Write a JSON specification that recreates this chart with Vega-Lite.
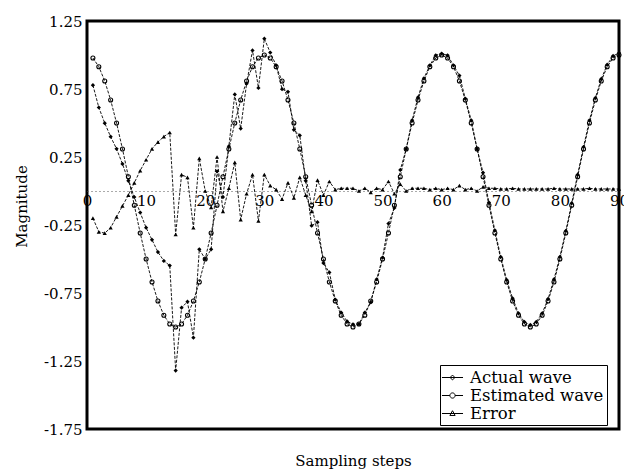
{
  "$schema": "https://vega.github.io/schema/vega-lite/v6.json",
  "autosize": {"type": "none"},
  "padding": {"left": 87, "top": 21, "right": 5, "bottom": 45},
  "width": 532,
  "height": 408,
  "background": "white",
  "config": {
    "font": "DejaVu Serif",
    "view": {"stroke": "black", "strokeWidth": 3},
    "axis": {"grid": false, "ticks": false, "labelColor": "black", "titleColor": "black", "titleFontWeight": "normal", "labelFontSize": 15, "titleFontSize": 15}
  },
  "data": {"values": [
    {"n":1,"Actual wave":0.778,"Estimated wave":0.978,"Error":-0.20},
    {"n":2,"Actual wave":0.614,"Estimated wave":0.914,"Error":-0.30},
    {"n":3,"Actual wave":0.499,"Estimated wave":0.809,"Error":-0.31},
    {"n":4,"Actual wave":0.399,"Estimated wave":0.669,"Error":-0.27},
    {"n":5,"Actual wave":0.31,"Estimated wave":0.5,"Error":-0.19},
    {"n":6,"Actual wave":0.199,"Estimated wave":0.309,"Error":-0.11},
    {"n":7,"Actual wave":0.075,"Estimated wave":0.105,"Error":-0.03},
    {"n":8,"Actual wave":-0.045,"Estimated wave":-0.105,"Error":0.06},
    {"n":9,"Actual wave":-0.159,"Estimated wave":-0.309,"Error":0.15},
    {"n":10,"Actual wave":-0.27,"Estimated wave":-0.5,"Error":0.23},
    {"n":11,"Actual wave":-0.359,"Estimated wave":-0.669,"Error":0.31},
    {"n":12,"Actual wave":-0.449,"Estimated wave":-0.809,"Error":0.36},
    {"n":13,"Actual wave":-0.514,"Estimated wave":-0.914,"Error":0.40},
    {"n":14,"Actual wave":-0.548,"Estimated wave":-0.978,"Error":0.43},
    {"n":15,"Actual wave":-1.32,"Estimated wave":-1.0,"Error":-0.32},
    {"n":16,"Actual wave":-0.858,"Estimated wave":-0.978,"Error":0.12},
    {"n":17,"Actual wave":-0.814,"Estimated wave":-0.914,"Error":0.10},
    {"n":18,"Actual wave":-1.079,"Estimated wave":-0.809,"Error":-0.27},
    {"n":19,"Actual wave":-0.429,"Estimated wave":-0.669,"Error":0.24},
    {"n":20,"Actual wave":-0.5,"Estimated wave":-0.5,"Error":0.0},
    {"n":21,"Actual wave":-0.429,"Estimated wave":-0.309,"Error":-0.12},
    {"n":22,"Actual wave":0.145,"Estimated wave":-0.105,"Error":0.25},
    {"n":23,"Actual wave":-0.045,"Estimated wave":0.105,"Error":-0.15},
    {"n":24,"Actual wave":0.329,"Estimated wave":0.309,"Error":0.02},
    {"n":25,"Actual wave":0.71,"Estimated wave":0.5,"Error":0.21},
    {"n":26,"Actual wave":0.459,"Estimated wave":0.669,"Error":-0.21},
    {"n":27,"Actual wave":0.789,"Estimated wave":0.809,"Error":-0.02},
    {"n":28,"Actual wave":1.034,"Estimated wave":0.914,"Error":0.12},
    {"n":29,"Actual wave":0.758,"Estimated wave":0.978,"Error":-0.22},
    {"n":30,"Actual wave":1.12,"Estimated wave":1.0,"Error":0.12},
    {"n":31,"Actual wave":1.018,"Estimated wave":0.978,"Error":0.04},
    {"n":32,"Actual wave":0.924,"Estimated wave":0.914,"Error":0.01},
    {"n":33,"Actual wave":0.749,"Estimated wave":0.809,"Error":-0.06},
    {"n":34,"Actual wave":0.729,"Estimated wave":0.669,"Error":0.06},
    {"n":35,"Actual wave":0.45,"Estimated wave":0.5,"Error":-0.05},
    {"n":36,"Actual wave":0.409,"Estimated wave":0.309,"Error":0.10},
    {"n":37,"Actual wave":0.075,"Estimated wave":0.105,"Error":-0.03},
    {"n":38,"Actual wave":-0.255,"Estimated wave":-0.105,"Error":-0.15},
    {"n":39,"Actual wave":-0.229,"Estimated wave":-0.309,"Error":0.08},
    {"n":40,"Actual wave":-0.53,"Estimated wave":-0.5,"Error":-0.03},
    {"n":41,"Actual wave":-0.599,"Estimated wave":-0.669,"Error":0.07},
    {"n":42,"Actual wave":-0.799,"Estimated wave":-0.809,"Error":0.01},
    {"n":43,"Actual wave":-0.894,"Estimated wave":-0.914,"Error":0.02},
    {"n":44,"Actual wave":-0.958,"Estimated wave":-0.978,"Error":0.02},
    {"n":45,"Actual wave":-0.98,"Estimated wave":-1.0,"Error":0.02},
    {"n":46,"Actual wave":-0.978,"Estimated wave":-0.978,"Error":0.0},
    {"n":47,"Actual wave":-0.894,"Estimated wave":-0.914,"Error":0.02},
    {"n":48,"Actual wave":-0.819,"Estimated wave":-0.809,"Error":-0.01},
    {"n":49,"Actual wave":-0.649,"Estimated wave":-0.669,"Error":0.02},
    {"n":50,"Actual wave":-0.49,"Estimated wave":-0.5,"Error":0.01},
    {"n":51,"Actual wave":-0.239,"Estimated wave":-0.309,"Error":0.07},
    {"n":52,"Actual wave":-0.125,"Estimated wave":-0.105,"Error":-0.02},
    {"n":53,"Actual wave":0.155,"Estimated wave":0.105,"Error":0.05},
    {"n":54,"Actual wave":0.309,"Estimated wave":0.309,"Error":0.0},
    {"n":55,"Actual wave":0.52,"Estimated wave":0.5,"Error":0.02},
    {"n":56,"Actual wave":0.689,"Estimated wave":0.669,"Error":0.02},
    {"n":57,"Actual wave":0.829,"Estimated wave":0.809,"Error":0.02},
    {"n":58,"Actual wave":0.924,"Estimated wave":0.914,"Error":0.01},
    {"n":59,"Actual wave":0.998,"Estimated wave":0.978,"Error":0.02},
    {"n":60,"Actual wave":1.01,"Estimated wave":1.0,"Error":0.01},
    {"n":61,"Actual wave":0.998,"Estimated wave":0.978,"Error":0.02},
    {"n":62,"Actual wave":0.924,"Estimated wave":0.914,"Error":0.01},
    {"n":63,"Actual wave":0.849,"Estimated wave":0.809,"Error":0.04},
    {"n":64,"Actual wave":0.679,"Estimated wave":0.669,"Error":0.01},
    {"n":65,"Actual wave":0.52,"Estimated wave":0.5,"Error":0.02},
    {"n":66,"Actual wave":0.309,"Estimated wave":0.309,"Error":0.0},
    {"n":67,"Actual wave":0.135,"Estimated wave":0.105,"Error":0.03},
    {"n":68,"Actual wave":-0.085,"Estimated wave":-0.105,"Error":0.02},
    {"n":69,"Actual wave":-0.289,"Estimated wave":-0.309,"Error":0.02},
    {"n":70,"Actual wave":-0.485,"Estimated wave":-0.5,"Error":0.015},
    {"n":71,"Actual wave":-0.654,"Estimated wave":-0.669,"Error":0.015},
    {"n":72,"Actual wave":-0.789,"Estimated wave":-0.809,"Error":0.02},
    {"n":73,"Actual wave":-0.899,"Estimated wave":-0.914,"Error":0.015},
    {"n":74,"Actual wave":-0.963,"Estimated wave":-0.978,"Error":0.015},
    {"n":75,"Actual wave":-0.985,"Estimated wave":-1.0,"Error":0.015},
    {"n":76,"Actual wave":-0.963,"Estimated wave":-0.978,"Error":0.015},
    {"n":77,"Actual wave":-0.899,"Estimated wave":-0.914,"Error":0.015},
    {"n":78,"Actual wave":-0.794,"Estimated wave":-0.809,"Error":0.015},
    {"n":79,"Actual wave":-0.649,"Estimated wave":-0.669,"Error":0.02},
    {"n":80,"Actual wave":-0.485,"Estimated wave":-0.5,"Error":0.015},
    {"n":81,"Actual wave":-0.294,"Estimated wave":-0.309,"Error":0.015},
    {"n":82,"Actual wave":-0.09,"Estimated wave":-0.105,"Error":0.015},
    {"n":83,"Actual wave":0.12,"Estimated wave":0.105,"Error":0.015},
    {"n":84,"Actual wave":0.324,"Estimated wave":0.309,"Error":0.015},
    {"n":85,"Actual wave":0.52,"Estimated wave":0.5,"Error":0.02},
    {"n":86,"Actual wave":0.684,"Estimated wave":0.669,"Error":0.015},
    {"n":87,"Actual wave":0.824,"Estimated wave":0.809,"Error":0.015},
    {"n":88,"Actual wave":0.929,"Estimated wave":0.914,"Error":0.015},
    {"n":89,"Actual wave":0.993,"Estimated wave":0.978,"Error":0.015},
    {"n":90,"Actual wave":1.015,"Estimated wave":1.0,"Error":0.015}
  ]},
  "transform": [{"fold": ["Actual wave", "Estimated wave", "Error"], "as": ["series", "value"]}],
  "layer": [
    {
      "mark": {"type": "line", "color": "black", "strokeWidth": 0.9, "strokeDash": [3, 1.5]},
      "encoding": {
        "x": {"field": "n", "type": "quantitative", "scale": {"domain": [0, 90], "nice": false},
          "axis": {"orient": "bottom", "offset": -238, "values": [0,10,20,30,40,50,60,70,80,90], "title": null, "domainDash": [1, 3], "domainColor": "#555", "domainWidth": 1, "labelPadding": 2, "labelFlush": false}},
        "y": {"field": "value", "type": "quantitative", "scale": {"domain": [-1.75, 1.25], "nice": false, "zero": false},
          "axis": {"values": [-1.75,-1.25,-0.75,-0.25,0.25,0.75,1.25], "labelExpr": "replace(format(datum.value, '.2f'), '\u2212', '-')", "domain": false, "labelPadding": 5, "title": "Magnitude", "titleX": -66, "titleY": 185, "titleAlign": "center", "titleBaseline": "middle", "titleAngle": -90}},
        "detail": {"field": "series"}
      }
    },
    {
      "transform": [{"filter": "datum.series === 'Actual wave'"}],
      "mark": {"type": "point", "shape": "diamond", "filled": true, "color": "black", "size": 18, "opacity": 1},
      "encoding": {"x": {"field": "n", "type": "quantitative", "axis": null}, "y": {"field": "value", "type": "quantitative"}}
    },
    {
      "transform": [{"filter": "datum.series === 'Estimated wave'"}],
      "mark": {"type": "point", "shape": "circle", "filled": false, "color": "black", "size": 16, "strokeWidth": 1.1, "opacity": 1},
      "encoding": {"x": {"field": "n", "type": "quantitative", "axis": null}, "y": {"field": "value", "type": "quantitative"}}
    },
    {
      "transform": [{"filter": "datum.series === 'Error'"}],
      "mark": {"type": "point", "shape": "triangle-up", "filled": true, "color": "black", "size": 18, "opacity": 1},
      "encoding": {"x": {"field": "n", "type": "quantitative", "axis": null}, "y": {"field": "value", "type": "quantitative"}}
    },
    {
      "mark": {"type": "point", "color": "black", "opacity": 0, "size": 324},
      "encoding": {
        "x": {"field": "n", "type": "quantitative", "axis": {"orient": "bottom", "offset": 0, "labels": false, "domain": false, "ticks": false, "title": "Sampling steps", "titlePadding": 24}},
        "y": {"field": "value", "type": "quantitative"},
        "shape": {"field": "series", "type": "nominal",
          "scale": {"domain": ["Actual wave", "Estimated wave", "Error"],
            "range": ["M-1.17,0H1.17M-0.27,0L0,-0.27L0.27,0L0,0.27Z", "M-1.17,0H-0.29M0.29,0H1.17M-0.29,0A0.29,0.29,0,1,1,0.29,0A0.29,0.29,0,1,1,-0.29,0", "M-1.17,0H1.17M0,-0.31L0.29,0.22L-0.29,0.22Z"]},
          "legend": {"title": null, "orient": "none", "legendX": 353, "legendY": 344, "strokeColor": "black", "fillColor": "white", "padding": 3, "labelFontSize": 16.5, "labelColor": "black", "symbolOpacity": 1, "symbolStrokeColor": "black", "symbolFillColor": "black", "symbolStrokeWidth": 1, "rowPadding": 0, "labelOffset": 8, "symbolSize": 324, "offset": 0}
        }
      }
    }
  ],
  "resolve": {"axis": {"x": "independent"}}
}
